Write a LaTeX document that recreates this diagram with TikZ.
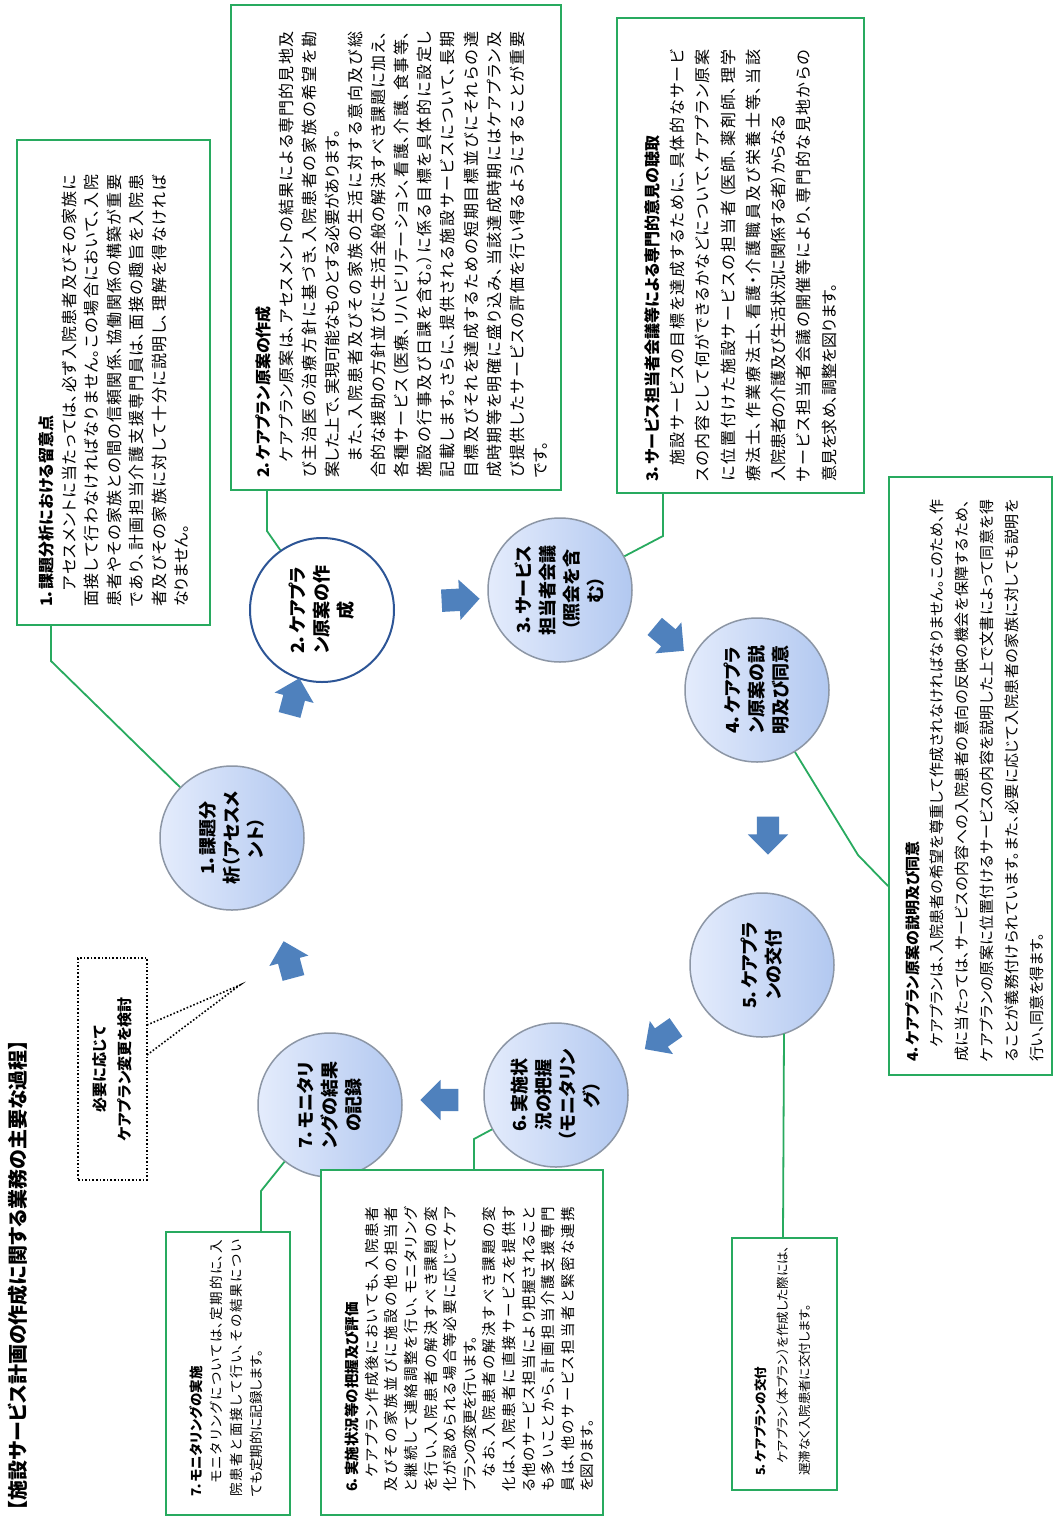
\documentclass[tikz,border=0pt]{standalone}
\usepackage{fontspec}
\setmainfont{Noto Sans CJK JP}[RawFeature=+palt]
\usetikzlibrary{shapes.arrows,calc}
\XeTeXlinebreaklocale "ja"
\XeTeXlinebreakskip=0pt plus 6pt minus 1pt
\definecolor{boxgreen}{RGB}{40,170,95}
\definecolor{arrowblue}{RGB}{79,129,189}
\definecolor{circline}{RGB}{140,150,165}
\definecolor{circlight}{RGB}{228,236,252}
\definecolor{circdark}{RGB}{178,200,240}
\definecolor{circtwo}{RGB}{45,85,150}
\tikzset{
  gbox/.style={draw=boxgreen, line width=2pt, fill=white, rectangle, inner sep=0pt},
  conn/.style={draw=boxgreen, line width=1.8pt},
  btext/.style={rotate=90, anchor=north west, inner sep=0pt, align=justify},
  stepcirc/.style={circle, draw=circline, line width=1.5pt, minimum size=144pt, inner sep=0pt, left color=circlight, right color=circdark},
  circtext/.style={rotate=90, align=center, inner sep=0pt, font=\fontsize{18}{24}\selectfont\bfseries},
  blockarrow/.style={single arrow, fill=arrowblue, draw=none, minimum height=38pt, minimum width=0pt, inner xsep=0pt, inner ysep=11pt, single arrow head extend=9pt, single arrow head indent=0pt},
}
\begin{document}
\begin{tikzpicture}[x=1pt,y=-1pt]
\fill[white] (0,0) rectangle (1054,1519);
\useasboundingbox (0,0) rectangle (1054,1519);

% title
\node[rotate=90, anchor=east, inner sep=0pt, font=\fontsize{20}{24}\selectfont\bfseries] (title) at (18,1040) {【施設サービス計画の作成に関する業務の主要な過程】};

% circles
\node[stepcirc] (c1) at (232,838) {};
\node[stepcirc, draw=circtwo, line width=2pt, left color=white, right color=white] (c2) at (322,610) {};
\node[stepcirc] (c3) at (560,590) {};
\node[stepcirc] (c4) at (757,690) {};
\node[stepcirc] (c5) at (762,965) {};
\node[stepcirc] (c6) at (556,1095) {};
\node[stepcirc] (c7) at (330,1105) {};
\node[circtext] (t1) at (c1) {1．課題分\\析（アセスメ\\ント）};
\node[circtext] (t2) at (c2) {2．ケアプラ\\ン原案の作\\成};
\node[circtext] (t3) at (c3) {3．サービス\\担当者会議\\（照会を含\\む）};
\node[circtext] (t4) at (c4) {4．ケアプラ\\ン原案の説\\明及び同意};
\node[circtext] (t5) at (c5) {5．ケアプラ\\ンの交付};
\node[circtext] (t6) at (c6) {6．実施状\\況の把握\\（モニタリン\\グ）};
\node[circtext] (t7) at (c7) {7．モニタリ\\ングの結果\\の記録};

% arrows
\node[blockarrow, rotate=75] (a12) at (293,702) {};
\node[blockarrow, rotate=3] (a23) at (455,600) {};
\node[blockarrow, rotate=-40] (a34) at (665,635) {};
\node[blockarrow, rotate=-90] (a45) at (768,830) {};
\node[blockarrow, rotate=-145] (a56) at (665,1035) {};
\node[blockarrow, rotate=180] (a67) at (445,1100) {};
\node[blockarrow, rotate=105] (a71) at (290,965) {};

% boxes
\node[gbox, minimum width=193pt, minimum height=485pt] (b1) at (113.5,382.5) {};
\node[gbox, minimum width=330pt, minimum height=485pt] (b2) at (396,247.5) {};
\node[gbox, minimum width=247pt, minimum height=475pt] (b3) at (740.5,255.5) {};
\node[gbox, minimum width=163pt, minimum height=598pt] (b4) at (970.5,776) {};
\node[gbox, minimum width=105pt, minimum height=252pt] (b5) at (784.5,1364) {};
\node[gbox, minimum width=282pt, minimum height=345pt] (b6) at (462,1342.5) {};
\node[gbox, minimum width=124pt, minimum height=283pt] (b7) at (228,1373.5) {};

% connectors
\draw[conn] ($(b1.south west)+(35,0)$) -- ++(0,35) coordinate (k1) -- (c1);
\draw[conn] ($(b2.south west)+(37,0)$) -- ++(0,40) coordinate (k2) -- (c2);
\draw[conn] ($(b3.south west)+(47,0)$) -- ++(0,42) coordinate (k3) -- (c3);
\coordinate (k4) at (858,855);
\draw[conn] (c4) -- (k4) -- ($(b4.north west)+(0,410)$);
\draw[conn] ($(b5.north west)+(52,0)$) -- ($(c5.center)+(22,68.5)$);
\draw[conn] ($(b6.north west)+(154,0)$) -- ++(0,-30) coordinate (k6) -- (c6);
\draw[conn] ($(b7.north west)+(96,0)$) -- ++(0,-40) coordinate (k7) -- (c7);

% callout
\coordinate (tip) at (240,985);
\fill[white] (147,1025) -- (tip) -- (147,1055) -- cycle;
\draw[dotted, line width=1.6pt] (147,1025) -- (tip) -- (147,1055);
\node[draw, dotted, line width=1.6pt, rectangle, minimum width=69pt, minimum height=222pt, inner sep=0pt] (cb) at (112.5,1069) {};
\node[rotate=90, align=center, inner sep=0pt, font=\fontsize{15}{25}\selectfont\bfseries] (cbt) at (cb) {必要に応じて\\ケアプラン変更を検討};

% box texts
\node[btext, text width=432pt, font=\fontsize{16}{22.5}\selectfont] (x1) at (39,607) {\textbf{1．課題分析における留意点}\\
\hspace*{1em}アセスメントに当たっては、必ず入院患者及びその家族に\linebreak
面接して行わなければなりません。この場合において、入院\linebreak
患者やその家族との間の信頼関係、協働関係の構築が重要\linebreak
であり、計画担当介護支援専門員は、面接の趣旨を入院患\linebreak
者及びその家族に対して十分に説明し、理解を得なければ\linebreak
なりません。};

\node[btext, text width=446pt, font=\fontsize{16}{23.1}\selectfont] (x2) at (255,478) {\textbf{2．ケアプラン原案の作成}\\
\hspace*{1em}ケアプラン原案は、アセスメントの結果による専門的見地及\linebreak
び主治医の治療方針に基づき、入院患者の家族の希望を勘\linebreak
案した上で、実現可能なものとする必要があります。\\
\hspace*{1em}また、入院患者及びその家族の生活に対する意向及び総\linebreak
合的な援助の方針並びに生活全般の解決すべき課題に加え、\linebreak
各種サービス（医療、リハビリテーション、看護、介護、食事等、\linebreak
施設の行事及び日課を含む。）に係る目標を具体的に設定し\linebreak
記載します。さらに、提供される施設サービスについて、長期\linebreak
目標及びそれを達成するための短期目標並びにそれらの達\linebreak
成時期等を明確に盛り込み、当該達成時期にはケアプラン及\linebreak
び提供したサービスの評価を行い得るようにすることが重要\linebreak
です。};

\node[btext, text width=432pt, font=\fontsize{16}{25.3}\selectfont] (x3) at (644,482) {\textbf{3．サービス担当者会議等による専門的意見の聴取}\\
\hspace*{1em}施設サービスの目標を達成するために、具体的なサービ\linebreak
スの内容として何ができるかなどについて、ケアプラン原案\linebreak
に位置付けた施設サービスの担当者（医師、薬剤師、理学\linebreak
療法士、作業療法士、看護・介護職員及び栄養士等、当該\linebreak
入院患者の介護及び生活状況に関係する者）からなる\\
サービス担当者会議の開催等により、専門的な見地からの\linebreak
意見を求め、調整を図ります。};

\node[btext, text width=562pt, font=\fontsize{15}{24.8}\selectfont] (x4) at (905,1062) {\textbf{4．ケアプラン原案の説明及び同意}\\
\hspace*{1em}ケアプランは、入院患者の希望を尊重して作成されなければなりません。このため、作\linebreak
成に当たっては、サービスの内容への入院患者の意向の反映の機会を保障するため、\linebreak
ケアプランの原案に位置付けるサービスの内容を説明した上で文書によって同意を得\linebreak
ることが義務付けられています。また、必要に応じて入院患者の家族に対しても説明を\linebreak
行い、同意を得ます。};

\node[btext, text width=240pt, align=left, font=\fontsize{12.5}{22}\selectfont] (x5) at (754,1476) {\textbf{5．ケアプランの交付}\\
\hspace*{1em}ケアプラン（本プラン）を作成した際には、\\
遅滞なく入院患者に交付します。};

\node[btext, text width=285pt, font=\fontsize{14.5}{19.6}\selectfont] (x6) at (345,1492) {\textbf{6．実施状況等の把握及び評価}\\
\hspace*{1em}ケアプラン作成後においても、入院患者\linebreak
及びその家族並びに施設の他の担当者\linebreak
と継続して連絡調整を行い、モニタリング\linebreak
を行い、入院患者の解決すべき課題の変\linebreak
化が認められる場合等必要に応じてケア\linebreak
プランの変更を行います。\\
\hspace*{1em}なお、入院患者の解決すべき課題の変\linebreak
化は、入院患者に直接サービスを提供す\linebreak
る他のサービス担当により把握されること\linebreak
も多いことから、計画担当介護支援専門\linebreak
員は、他のサービス担当者と緊密な連携\linebreak
を図ります。};

\node[btext, text width=257pt, font=\fontsize{13.5}{20}\selectfont] (x7) at (189,1497) {\textbf{7．モニタリングの実施}\\
\hspace*{1em}モニタリングについては、定期的に、入\linebreak
院患者と面接して行い、その結果につい\linebreak
ても定期的に記録します。};
\end{tikzpicture}
\end{document}
